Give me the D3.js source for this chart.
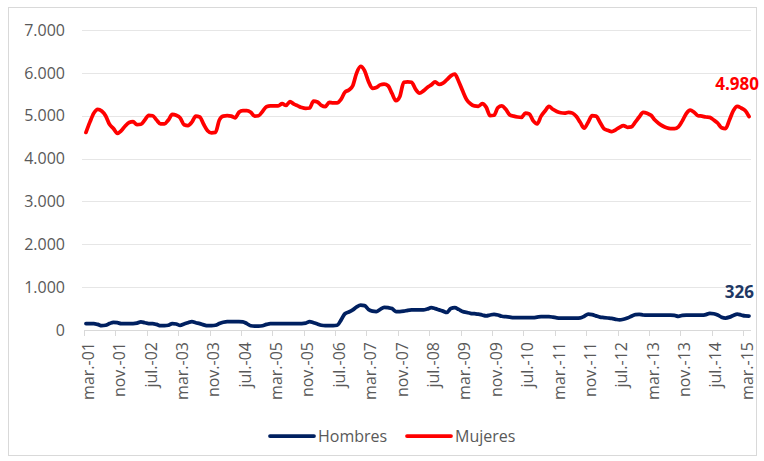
<!DOCTYPE html>
<html>
<head>
<meta charset="utf-8">
<script src="https://cdn.jsdelivr.net/npm/d3@7"></script>
<style>
  body { margin: 0; background: #fff; }
  svg text { font-family: "Open Sans", "Liberation Sans", sans-serif; }
</style>
</head>
<body>
<svg id="chart" width="764" height="461"></svg>
<script>
// monthly series, mar-01 .. apr-15 (170 months)
const FIRST_YEAR = 2001, FIRST_MONTH = 2; // march, 0-based
const MONTH_ABBR = ["ene.", "feb.", "mar.", "abr.", "may.", "jun.",
                    "jul.", "ago.", "sep.", "oct.", "nov.", "dic."];

const mujeres = [
  4610, 4850, 5060, 5150, 5110, 5000, 4800, 4700, 4590, 4650,
  4760, 4840, 4860, 4790, 4800, 4900, 5010, 5000, 4900, 4810,
  4810, 4900, 5030, 5010, 4950, 4790, 4770, 4850, 4990, 4970,
  4800, 4650, 4600, 4610, 4900, 4990, 5000, 4990, 4950, 5080,
  5120, 5120, 5080, 4990, 5000, 5100, 5210, 5230, 5230, 5230,
  5280, 5240, 5330, 5270, 5230, 5190, 5170, 5180, 5340, 5320,
  5240, 5210, 5310, 5300, 5300, 5380, 5550, 5600, 5700, 6000,
  6150, 6050, 5800, 5640, 5660, 5720, 5740, 5700, 5520, 5350,
  5450, 5780, 5790, 5780, 5620, 5530, 5580, 5660, 5720, 5790,
  5730, 5760, 5840, 5930, 5970, 5800, 5580, 5380, 5280, 5230,
  5220, 5280, 5200, 5000, 5010, 5190, 5230, 5150, 5020, 4990,
  4970, 4960, 5060, 5040, 4880, 4810, 4990, 5110, 5220, 5150,
  5100, 5070, 5060, 5080, 5060, 4980, 4840, 4710, 4850, 5000,
  4990, 4850, 4700, 4660, 4630, 4670, 4730, 4770, 4730, 4740,
  4850, 4970, 5080, 5060, 5010, 4900, 4820, 4760, 4720, 4700,
  4700, 4740, 4880, 5050, 5130, 5080, 5000, 4990, 4970, 4960,
  4900, 4830, 4720, 4700, 4900, 5120, 5220, 5180, 5120, 4980
];

const hombres = [
  150, 150, 150, 130, 100, 110, 150, 180, 170, 150,
  150, 150, 150, 160, 190, 170, 150, 150, 130, 100,
  100, 110, 150, 140, 110, 140, 170, 195, 170, 150,
  120, 100, 100, 110, 150, 180, 195, 195, 195, 195,
  190, 150, 100, 90, 90, 100, 130, 150, 150, 150,
  150, 150, 150, 150, 150, 150, 160, 195, 170, 140,
  110, 100, 100, 100, 110, 230, 380, 420, 470, 540,
  580, 570, 480, 440, 430, 480, 530, 520, 500, 430,
  430, 440, 460, 470, 470, 470, 470, 490, 520, 500,
  470, 440, 410, 500, 520, 480, 430, 410, 390, 380,
  370, 350, 330, 350, 365, 350, 320, 310, 300, 290,
  290, 290, 290, 290, 290, 300, 310, 310, 310, 300,
  285, 280, 280, 280, 280, 280, 285, 320, 370, 360,
  330, 300, 290, 280, 270, 250, 235, 250, 280, 320,
  360, 365, 350, 345, 345, 345, 345, 345, 345, 345,
  340, 320, 340, 350, 345, 345, 345, 345, 360, 390,
  380, 350, 300, 280, 300, 340, 370, 350, 330, 326
];

const tickLabels = [
  "mar.-01", "nov.-01", "jul.-02", "mar.-03", "nov.-03", "jul.-04",
  "mar.-05", "nov.-05", "jul.-06", "mar.-07", "nov.-07", "jul.-08",
  "mar.-09", "nov.-09", "jul.-10", "mar.-11", "nov.-11", "jul.-12",
  "mar.-13", "nov.-13", "jul.-14", "mar.-15"
];
const yTicks = [0, 1000, 2000, 3000, 4000, 5000, 6000, 7000];

const seriesNames = ["Hombres", "Mujeres"];
const seriesColors = ["#002060", "#ff0000"];
const labelColors = ["#1f3864", "#ff0000"];

// category names built from the start month
const categories = mujeres.map((_, i) => {
  const m = (FIRST_MONTH + i) % 12;
  const y = FIRST_YEAR + Math.floor((FIRST_MONTH + i) / 12);
  return MONTH_ABBR[m] + "-" + String(y % 100).padStart(2, "0");
});

const svg = d3.select("#chart");
const plot = { left: 84, right: 751, top: 30, bottom: 330 };

// chart border
svg.append("rect")
    .attr("x", 8.5).attr("y", 7.5)
    .attr("width", 748).attr("height", 448)
    .attr("fill", "#fff")
    .attr("stroke", "#d9d9d9");

const x = d3.scaleBand()
    .domain(categories)
    .range([plot.left, plot.right])
    .padding(0);
const xc = c => x(c) + x.bandwidth() / 2;

const y = d3.scaleLinear()
    .domain([0, 7000])
    .range([plot.bottom, plot.top]);

const es = d3.formatLocale({ decimal: ",", thousands: ".", grouping: [3], currency: ["", "€"] });
const fmt = es.format(",d");

// gridlines
svg.append("g")
  .selectAll("line")
  .data(yTicks.filter(d => d > 0))
  .join("line")
    .attr("x1", plot.left - 2).attr("x2", plot.right)
    .attr("y1", d => Math.round(y(d)) + 0.5)
    .attr("y2", d => Math.round(y(d)) + 0.5)
    .attr("stroke", "#e6e6e6")
    .attr("stroke-width", 1);

// y labels
svg.append("g")
  .selectAll("text")
  .data(yTicks)
  .join("text")
    .attr("x", 65)
    .attr("y", d => y(d))
    .attr("dy", "0.36em")
    .attr("text-anchor", "end")
    .attr("fill", "#595959")
    .style("font-size", "16px")
    .text(d => fmt(d));

// x axis line + ticks at category boundaries
const xAxis = svg.append("g");
xAxis.append("line")
    .attr("x1", plot.left).attr("x2", plot.right)
    .attr("y1", plot.bottom + 0.5).attr("y2", plot.bottom + 0.5)
    .attr("stroke", "#d9d9d9");
const tickCats = tickLabels.map((_, k) => categories[k * 8]);
xAxis.selectAll(".tick")
  .data(tickCats)
  .join("line")
    .attr("class", "tick")
    .attr("x1", d => Math.round(x(d)) + 0.5)
    .attr("x2", d => Math.round(x(d)) + 0.5)
    .attr("y1", plot.bottom).attr("y2", plot.bottom + 6)
    .attr("stroke", "#d9d9d9");
xAxis.selectAll(".lbl")
  .data(tickCats)
  .join("text")
    .attr("class", "lbl")
    .attr("transform", (d, k) => `translate(${xc(d) + 2},${plot.bottom + 12}) rotate(-90)`)
    .attr("dy", "0.36em")
    .attr("text-anchor", "end")
    .attr("fill", "#595959")
    .style("font-size", "16px")
    .text((d, k) => tickLabels[k]);

// lines
const line = d3.line()
    .x((d, i) => xc(categories[i]))
    .y(d => y(d))
    .curve(d3.curveMonotoneX);

[hombres, mujeres].forEach((vals, s) => {
  svg.append("path")
      .datum(vals)
      .attr("fill", "none")
      .attr("stroke", seriesColors[s])
      .attr("stroke-width", 3.75)
      .attr("stroke-linejoin", "round")
      .attr("stroke-linecap", "round")
      .attr("d", line);
});

// end labels
const lastCat = categories[categories.length - 1];
const endOffsets = [{ dx: 5, dy: -18 }, { dx: 10, dy: -27 }];
[hombres, mujeres].forEach((vals, s) => {
  const v = vals[vals.length - 1];
  svg.append("text")
      .attr("x", xc(lastCat) + endOffsets[s].dx)
      .attr("y", y(v) + endOffsets[s].dy)
      .attr("text-anchor", "end")
      .attr("fill", labelColors[s])
      .style("font-size", "17px")
      .style("font-weight", "bold")
      .text(fmt(v));
});

// legend
const legend = svg.append("g").attr("transform", "translate(270,436)");
const legendX = [0, 137];
seriesNames.forEach((name, s) => {
  const g = legend.append("g").attr("transform", `translate(${legendX[s]},0)`);
  g.append("line")
      .attr("x1", 0).attr("x2", 44)
      .attr("stroke", seriesColors[s])
      .attr("stroke-width", 3.75)
      .attr("stroke-linecap", "round");
  g.append("text")
      .attr("x", 48)
      .attr("dy", "0.36em")
      .attr("fill", "#595959")
      .style("font-size", "16px")
      .text(name);
});
</script>
</body>
</html>
